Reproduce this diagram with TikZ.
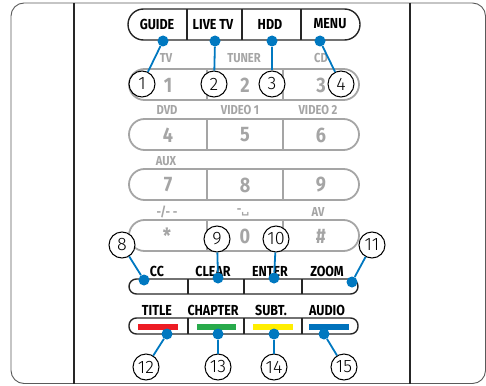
\documentclass[tikz,border=0pt]{standalone}
\usepackage{fontspec}
\setmainfont{Fira Sans}
\newfontfamily\labelfont[FakeStretch=0.86]{Fira Sans}
\newfontfamily\numfont{Fira Sans Light}
\newfontfamily\symfont{DejaVu Sans}
\definecolor{callblue}{RGB}{0,120,192}
\definecolor{keygray}{RGB}{165,165,165}
\definecolor{framegray}{RGB}{90,90,90}
\definecolor{stripred}{RGB}{237,28,36}
\definecolor{stripgreen}{RGB}{40,170,75}
\definecolor{stripyellow}{RGB}{255,238,0}
\definecolor{stripblue}{RGB}{0,114,188}

\begin{document}
\begin{tikzpicture}[x=1pt,y=-1pt,
  btn/.style={draw=black!85,line width=1.4pt},
  graybtn/.style={draw=keygray,line width=1.8pt},
  btnlabel/.style={font=\labelfont\bfseries\fontsize{14.5}{14.5}\selectfont},
  graylabel/.style={text=keygray,font=\labelfont\bfseries\fontsize{13}{13}\selectfont},
  keydigit/.style={text=keygray,font=\labelfont\bfseries\fontsize{21}{21}\selectfont},
  callout/.style={circle,draw,fill=white,line width=1pt,minimum size=26pt,inner sep=0pt,
    font=\numfont\fontsize{18}{18}\selectfont},
  calldot/.style={circle,fill=callblue,minimum size=11pt,inner sep=0pt},
  leader/.style={callblue,line width=1.8pt}]
\useasboundingbox (0,0) rectangle (486,385);
% remote outline
\draw[framegray,line width=0.9pt,rounded corners=13] (11,3) rectangle (485.5,383.5);
\draw[black!85,line width=1.5pt] (74,3) -- (74,384);
\draw[black!85,line width=1.5pt] (410,3) -- (410,384);
% grey number keys
\draw[graybtn,rounded corners=15.5] (129,69) rectangle (359,100);
\draw[graybtn,rounded corners=15.5] (129,119) rectangle (359,150);
\draw[graybtn,rounded corners=15.5] (129,169) rectangle (359,200);
\draw[graybtn,rounded corners=15.5] (129,220) rectangle (359,251);
\foreach \y in {69,119,169,220} {
  \draw[graybtn] (207,\y) -- (207,\y+31);
  \draw[graybtn] (283,\y) -- (283,\y+31);
}
\node[graylabel] (tv) at (166,58) {TV};
\node[graylabel] (tuner) at (244,58) {TUNER};
\node[graylabel] (cd) at (321,58) {CD};
\node[keydigit] (k1) at (168,85) {1};
\node[keydigit] (k2) at (245,85) {2};
\node[keydigit] (k3) at (321,85) {3};
\node[graylabel] (dvd) at (167,110) {DVD};
\node[graylabel] (video1) at (240,110) {VIDEO 1};
\node[graylabel] (video2) at (318,110) {VIDEO 2};
\node[keydigit] (k4) at (168,135) {4};
\node[keydigit] (k5) at (245,135) {5};
\node[keydigit] (k6) at (321,135) {6};
\node[graylabel] (aux) at (166,161) {AUX};
\node[keydigit] (k7) at (168,185) {7};
\node[keydigit] (k8) at (245,185) {8};
\node[keydigit] (k9) at (321,185) {9};
\node[graylabel] (dash) at (167,212) {-/- -};
\node[graylabel] (space) at (243,212) {-{\symfont\fontsize{11}{11}\selectfont ␣}};
\node[graylabel] (av) at (318,212) {AV};
\node[keydigit] (kstar) at (167,236) {*};
\node[keydigit] (k0) at (245,236) {0};
\node[keydigit] (khash) at (321,236) {\#};
% black keys
\draw[btn,rounded corners=15.5] (128,9) rectangle (360,40);
\draw[btn] (187,9) -- (187,40);
\draw[btn] (242,9) -- (242,40);
\draw[btn] (301,9) -- (301,40);
\node[btnlabel] (guide) at (157,24) {GUIDE};
\node[btnlabel] (livetv) at (213,24) {LIVE TV};
\node[btnlabel] (hdd) at (270,24) {HDD};
\node[btnlabel] (menu) at (330,24) {MENU};
\draw[btn,rounded corners=7.5] (129,279) rectangle (358,294);
\draw[btn,rounded corners=7.5] (129,318) rectangle (358,334);
\foreach \x in {188,244,302} {
  \draw[btn] (\x,279) -- (\x,294);
  \draw[btn] (\x,318) -- (\x,334);
}
\node[btnlabel] (cc) at (157,271) {CC};
\node[btnlabel] (clear) at (213,271) {CLEAR};
\node[btnlabel] (enter) at (270,271) {ENTER};
\node[btnlabel] (zoom) at (327,271) {ZOOM};
\node[btnlabel] (title) at (157,310) {TITLE};
\node[btnlabel] (chapter) at (213,310) {CHAPTER};
\node[btnlabel] (subt) at (271,310) {SUBT.};
\node[btnlabel] (audio) at (327,310) {AUDIO};
\fill[stripred] (138,324) rectangle (178,329.5);
\fill[stripgreen] (197,324) rectangle (236,329.5);
\fill[stripyellow] (253,324) rectangle (293,329.5);
\fill[stripblue] (309,324) rectangle (349,329.5);
% callouts
\node[calldot] (d1) at (163,41) {};
\node[calldot] (d2) at (215,41) {};
\node[calldot] (d3) at (272,41) {};
\node[calldot] (d4) at (320,41) {};
\node[calldot] (d8) at (144,280) {};
\node[calldot] (d9) at (218,278) {};
\node[calldot] (d10) at (274,278) {};
\node[calldot] (d11) at (352,282) {};
\node[calldot] (d12) at (167,334) {};
\node[calldot] (d13) at (218,334) {};
\node[calldot] (d14) at (274,334) {};
\node[calldot] (d15) at (324,334) {};
\node[callout] (c1) at (142,84) {1};
\node[callout] (c2) at (214,84) {2};
\node[callout] (c3) at (272,84) {3};
\node[callout] (c4) at (341,84) {4};
\node[callout] (c8) at (122,245) {8};
\node[callout] (c9) at (217,239) {9};
\node[callout] (c10) at (276,239) {10};
\node[callout] (c11) at (372,245) {11};
\node[callout] (c12) at (146,367) {12};
\node[callout] (c13) at (218,367) {13};
\node[callout] (c14) at (274,367) {14};
\node[callout] (c15) at (344,367) {15};
\draw[leader] (d1) -- (c1);
\draw[leader] (d2) -- (c2);
\draw[leader] (d3) -- (c3);
\draw[leader] (d4) -- (c4);
\draw[leader] (d8) -- (c8);
\draw[leader] (d9) -- (c9);
\draw[leader] (d10) -- (c10);
\draw[leader] (d11) -- (c11);
\draw[leader] (d12) -- (c12);
\draw[leader] (d13) -- (c13);
\draw[leader] (d14) -- (c14);
\draw[leader] (d15) -- (c15);
\end{tikzpicture}
\end{document}
